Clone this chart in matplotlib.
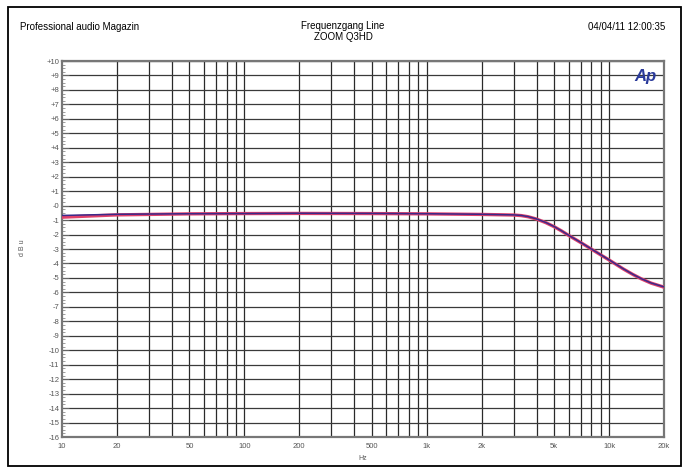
import numpy as np
import matplotlib.pyplot as plt
from matplotlib.ticker import FixedLocator, FixedFormatter, MultipleLocator
from matplotlib.patches import Rectangle

plt.rcParams["font.family"] = ["Liberation Sans", "DejaVu Sans"]

# frequenzgang
freq = [10, 20, 50, 100, 200, 500, 1000, 2000, 3000, 3300, 3600, 4000,
        4500, 5000, 5500, 6000, 7000, 8000, 9000, 10000, 11000, 12000,
        13500, 15000, 17000, 20000]
level_blue = [-0.68, -0.6, -0.56, -0.55, -0.53, -0.54, -0.56, -0.6, -0.64,
              -0.68, -0.76, -0.92, -1.17, -1.45, -1.75, -2.05, -2.55, -3.0,
              -3.4, -3.75, -4.08, -4.38, -4.75, -5.05, -5.35, -5.62]
level_red = [-0.8, -0.64, -0.57, -0.55, -0.54, -0.55, -0.57, -0.61, -0.65,
             -0.69, -0.77, -0.93, -1.18, -1.46, -1.76, -2.06, -2.56, -3.01,
             -3.41, -3.76, -4.09, -4.39, -4.76, -5.06, -5.36, -5.64]

x_ticks = [10, 20, 50, 100, 200, 500, 1000, 2000, 5000, 10000, 20000]
x_labels = ["10", "20", "50", "100", "200", "500", "1k", "2k", "5k", "10k", "20k"]
x_grid = [20, 30, 40, 50, 60, 70, 80, 90, 100, 200, 300, 400, 500, 600,
          700, 800, 900, 1000, 2000, 3000, 4000, 5000, 6000, 7000, 8000,
          9000, 10000]
y_ticks = list(range(-16, 11))
y_labels = [("+%d" % v if v > 0 else ("-0" if v == 0 else "%d" % v)) for v in y_ticks]

fig = plt.figure(figsize=(6.85, 4.71), dpi=100)
fig.patches.append(Rectangle((8 / 685, 5 / 471), 673 / 685, 459 / 471,
                             transform=fig.transFigure, fill=False,
                             edgecolor="black", linewidth=1.3))

ax = fig.add_axes([62 / 685, 34 / 471, 602 / 685, 376 / 471])
ax.set_xscale("log")
ax.set_xlim(10, 20000)
ax.set_ylim(-16, 10)

for f in x_grid:
    ax.axvline(f, color="#2a2a2a", linewidth=0.9, zorder=1)
for v in y_ticks:
    ax.axhline(v, color="#3a3a3a", linewidth=0.9, zorder=1)

ax.plot(freq, level_red, color="#e0406a", linewidth=2.4, zorder=3)
ax.plot(freq, level_blue, color="#3a2a8a", linewidth=1.1, zorder=4)

ax.xaxis.set_major_locator(FixedLocator(x_ticks))
ax.xaxis.set_major_formatter(FixedFormatter(x_labels))
ax.xaxis.set_minor_locator(FixedLocator([]))
ax.yaxis.set_major_locator(FixedLocator(y_ticks))
ax.yaxis.set_major_formatter(FixedFormatter(y_labels))
ax.yaxis.set_minor_locator(MultipleLocator(0.25))

ax.tick_params(axis="x", which="both", length=0, labelsize=5.5,
               labelcolor="#555555", pad=4)
ax.tick_params(axis="y", which="major", direction="in", length=5,
               width=0.7, color="#666666", labelsize=5.5,
               labelcolor="#555555", pad=2)
ax.tick_params(axis="y", which="minor", direction="in", length=2.5,
               width=0.5, color="#777777")

for s in ax.spines.values():
    s.set_color("#777777")
    s.set_linewidth(1.6)

ax.set_xlabel("Hz", fontsize=5, color="#555555", labelpad=4)
fig.text(22 / 685, 1 - 248 / 471, "d B u", rotation=90, fontsize=5,
         color="#555555", ha="center", va="center")

ax.text(0.988, 0.978, "Ap", transform=ax.transAxes, ha="right", va="top",
        fontsize=12, fontweight="bold", fontstyle="italic", color="#2a3a9a")

fig.text(20 / 685, 1 - 27 / 471, "Professional audio Magazin", fontsize=7,
         ha="left", va="center")
fig.text(343 / 685, 1 - 26 / 471, "Frequenzgang Line", fontsize=7,
         ha="center", va="center")
fig.text(343 / 685, 1 - 37 / 471, "ZOOM Q3HD", fontsize=7,
         ha="center", va="center")
fig.text(665 / 685, 1 - 27 / 471, "04/04/11 12:00:35", fontsize=7,
         ha="right", va="center")

fig.savefig("out.png", dpi=100)
